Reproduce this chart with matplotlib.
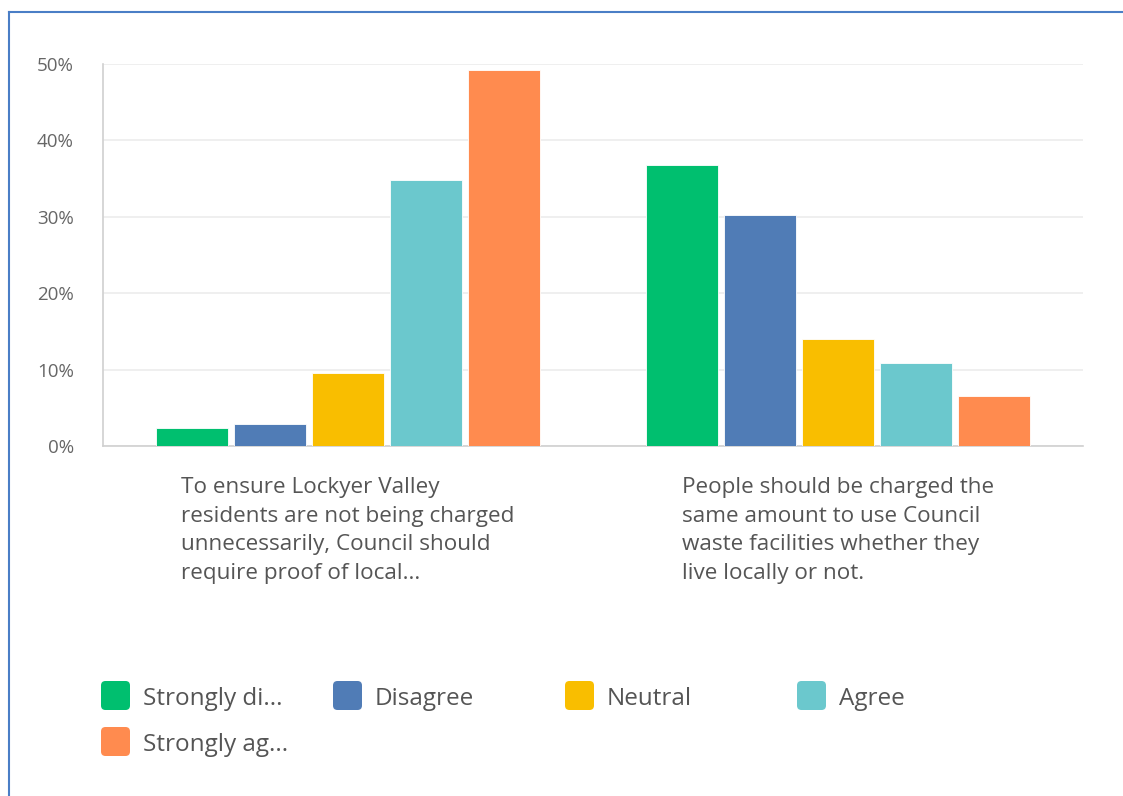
import matplotlib.pyplot as plt
import numpy as np
from matplotlib.patches import FancyBboxPatch
from matplotlib.lines import Line2D

plt.rcParams['font.family'] = ['Open Sans', 'DejaVu Sans']

questions = [
    "To ensure Lockyer Valley\nresidents are not being charged\nunnecessarily, Council should\nrequire proof of local...",
    "People should be charged the\nsame amount to use Council\nwaste facilities whether they\nlive locally or not.",
]
answers = ["Strongly disagree", "Disagree", "Neutral", "Agree", "Strongly agree"]
legend_labels = ["Strongly di...", "Disagree", "Neutral", "Agree", "Strongly ag..."]
colors = ["#00BF6F", "#507CB6", "#F9BE00", "#6BC8CD", "#FF8B4F"]

# percent of respondents, one list per answer (question 1, question 2)
strongly_disagree = [2.4, 36.8]
disagree = [2.9, 30.3]
neutral = [9.6, 14.0]
agree = [34.8, 10.9]
strongly_agree = [49.2, 6.6]
values = [strongly_disagree, disagree, neutral, agree, strongly_agree]

W, H = 1123, 796
fig = plt.figure(figsize=(W / 100, H / 100), dpi=100)
ax = fig.add_axes([103 / W, 1 - 446 / H, 980 / W, 382 / H])

x = np.arange(len(questions))
width = 72 / 490
step = 78 / 490
for i, vals in enumerate(values):
    ax.bar(x + (i - 2) * step, vals, width, color=colors[i], label=answers[i],
           edgecolor="white", linewidth=0.6, zorder=3)

ax.set_xlim(-0.5, 1.5)
ax.set_ylim(0, 50)
ax.set_yticks([0, 10, 20, 30, 40, 50])
ax.set_yticklabels([f"{t}%" for t in [0, 10, 20, 30, 40, 50]])
ax.tick_params(axis="y", length=0, pad=21, labelsize=13.5, labelcolor="#666666")
ax.tick_params(axis="x", length=0, labelbottom=False)
ax.grid(axis="y", color="#ececec", linewidth=1.2, zorder=0)
for s in ["top", "right"]:
    ax.spines[s].set_visible(False)
ax.spines["left"].set_color("#d0d0d0")
ax.spines["bottom"].set_color("#d0d0d0")
ax.spines["left"].set_linewidth(1.2)
ax.spines["bottom"].set_linewidth(1.2)

for i, q in enumerate(questions):
    ax.text(x[i], -0.082, q, transform=ax.get_xaxis_transform(), ha="center",
            va="top", multialignment="left", fontsize=16.2, color="#555555",
            linespacing=1.47)

# legend, laid out in rows of four
for i, lab in enumerate(legend_labels):
    col, row = i % 4, i // 4
    px = 101 + col * 232
    py = 681 + row * 46
    fig.add_artist(FancyBboxPatch((px / W, 1 - (py + 29) / H), 29 / W, 29 / H,
                                  boxstyle="round,pad=0,rounding_size=0.004",
                                  transform=fig.transFigure, facecolor=colors[i],
                                  edgecolor="none", mutation_aspect=W / H))
    fig.text((px + 42) / W, 1 - (py + 18) / H, lab, ha="left", va="center",
             fontsize=17.5, color="#555555")

# frame lines of the screenshot
fig.add_artist(Line2D([9 / W, 1], [1 - 12 / H, 1 - 12 / H], color="#4A7EC6",
                      linewidth=1.5, transform=fig.transFigure))
fig.add_artist(Line2D([9 / W, 9 / W], [0, 1 - 12 / H], color="#4A7EC6",
                      linewidth=1.5, transform=fig.transFigure))

fig.savefig("out.png", dpi=100)
